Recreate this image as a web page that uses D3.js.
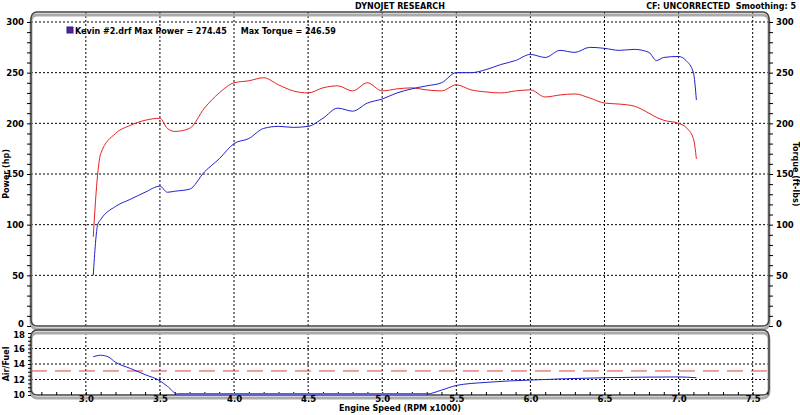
<!DOCTYPE html>
<html><head><meta charset="utf-8">
<script src="https://cdn.jsdelivr.net/npm/d3@7"></script>
<style>body{margin:0;background:#fff}text{font-family:Verdana,"DejaVu Sans",sans-serif;font-weight:bold}</style>
</head><body><div id="chart"></div>
<script>
var rpm =    [3.05,3.08,3.1,3.2,3.3,3.4,3.5,3.55,3.6,3.7,3.8,3.9,4.0,4.1,4.2,4.3,4.4,4.5,4.6,4.7,4.8,4.9,5.0,5.1,5.2,5.3,5.4,5.5,5.6,5.7,5.8,5.9,6.0,6.1,6.2,6.3,6.4,6.5,6.6,6.7,6.8,6.85,6.9,7.0,7.05,7.1,7.12];
var power =  [50,100,105,118,125,132,138,132,133,135,152,165,180,185,195,197,196,197,205,215,212,220,224,230,234,237,240,250,250,253,258,262,268,265,272,270,275,274,272,273,270,262,265,266,262,250,223];
var torque = [88,150,170,190,198,203,205,195,192,195,215,230,240,242,245,238,232,230,235,237,232,240,232,234,235,233,232,238,233,231,230,232,233,226,228,229,225,220,219,217,210,206,203,200,196,185,165];
var afrRpm = [3.05,3.1,3.15,3.2,3.3,3.4,3.5,3.55,3.62,5.3,5.4,5.5,5.7,6.0,6.5,7.0,7.12];
var afr =    [14.8,15.0,14.8,14.1,13.3,12.5,11.7,11.0,10,10,10.5,11.1,11.5,11.8,12.1,12.2,12.1];
var afrTarget = 13.1;
var xTicks = [3.0,3.5,4.0,4.5,5.0,5.5,6.0,6.5,7.0,7.5];
var yTicks = [0,50,100,150,200,250,300];
var afrTicks = [10,12,14,16,18];

var W = 800, H = 415;
var svg = d3.select("#chart").append("svg").attr("width", W).attr("height", H);
var x = d3.scaleLinear().domain([2.63, 7.61]).range([31, 769]);
var y = d3.scaleLinear().domain([0, 300]).range([326, 22]);
var ya = d3.scaleLinear().domain([10, 18]).range([395, 333]);
var fs = 8.5;

function panel(top, bottom) {
  svg.append("rect").attr("x", 31).attr("y", top + 3).attr("width", 738).attr("height", bottom - top)
    .attr("rx", 6).attr("fill", "none").attr("stroke", "#aaa").attr("stroke-width", 3);
  svg.append("rect").attr("x", 31).attr("y", top).attr("width", 738).attr("height", bottom - top)
    .attr("rx", 6).attr("fill", "none").attr("stroke", "#444").attr("stroke-width", 1.5);
}

// gridlines
var g = svg.append("g").attr("stroke", "#000").attr("stroke-dasharray", "2,2").attr("stroke-width", 1);
xTicks.forEach(function (t) {
  g.append("line").attr("x1", x(t)).attr("x2", x(t)).attr("y1", 12).attr("y2", 326);
  g.append("line").attr("x1", x(t)).attr("x2", x(t)).attr("y1", 333).attr("y2", 395);
});
yTicks.slice(1).forEach(function (t) {
  g.append("line").attr("x1", 31).attr("x2", 769).attr("y1", y(t)).attr("y2", y(t));
});
afrTicks.slice(1, 4).forEach(function (t) {
  g.append("line").attr("x1", 31).attr("x2", 769).attr("y1", ya(t)).attr("y2", ya(t));
});

panel(12, 326);
panel(330, 395);

function yAxis(gen) {
  return function (s) {
    s.call(gen);
    s.select(".domain").remove();
    s.selectAll("text").attr("font-size", fs);
  };
}
var lab = function (d) { return yTicks.indexOf(d) >= 0 ? d : ""; };
svg.append("g").attr("transform", "translate(31,0)")
  .call(yAxis(d3.axisLeft(y).tickValues(d3.range(0, 301, 10)).tickSize(4).tickFormat(lab)));
svg.append("g").attr("transform", "translate(769,0)")
  .call(yAxis(d3.axisRight(y).tickValues(d3.range(0, 301, 10)).tickSize(4).tickFormat(lab)));
svg.append("g").attr("transform", "translate(31,0)")
  .call(yAxis(d3.axisLeft(ya).tickValues(d3.range(10, 18.1, 0.5)).tickSize(3)
    .tickFormat(function (d) { return afrTicks.indexOf(d) >= 0 ? d : ""; })));
svg.append("g").attr("transform", "translate(0,395)")
  .call(d3.axisTop(x).tickValues(d3.range(2.7, 7.61, 0.1)).tickSize(3).tickFormat(""))
  .call(function (s) { s.select(".domain").remove(); });
svg.append("g").attr("transform", "translate(0,393)")
  .call(yAxis(d3.axisBottom(x).tickValues(xTicks).tickSize(0).tickFormat(d3.format(".1f"))));

// nudge overlapping "0"/"18" labels apart
svg.selectAll("g.tick text").filter(function () { return this.textContent === "0"; }).attr("dy", "0.1em");
svg.selectAll("g.tick text").filter(function () { return this.textContent === "18"; }).attr("dy", "0.55em");

// curves
var line = d3.line().curve(d3.curveMonotoneX).x(function (d) { return x(d[0]); }).y(function (d) { return y(d[1]); });
svg.append("path").datum(d3.zip(rpm, torque)).attr("d", line).attr("fill", "none").attr("stroke", "#e82020").attr("stroke-width", 1);
svg.append("path").datum(d3.zip(rpm, power)).attr("d", line).attr("fill", "none").attr("stroke", "#2020d0").attr("stroke-width", 1);

svg.append("line").attr("x1", 31).attr("x2", 769).attr("y1", ya(afrTarget)).attr("y2", ya(afrTarget))
  .attr("stroke", "#e04040").attr("stroke-dasharray", "16,8").attr("stroke-width", 1);
var aline = d3.line().curve(d3.curveMonotoneX).x(function (d) { return x(d[0]); }).y(function (d) { return ya(d[1]) - 1; });
svg.append("path").datum(d3.zip(afrRpm, afr)).attr("d", aline).attr("fill", "none").attr("stroke", "#2020d0").attr("stroke-width", 1);
svg.append("line").attr("x1", x(3.62)).attr("x2", x(5.3)).attr("y1", 394).attr("y2", 394).attr("stroke", "#6060d0").attr("stroke-width", 2);

// text
svg.append("text").attr("x", 400).attr("y", 9).attr("text-anchor", "middle").attr("font-size", 8).text("DYNOJET RESEARCH");
svg.append("text").attr("x", 796).attr("y", 9).attr("text-anchor", "end").attr("font-size", 8).attr("xml:space", "preserve").text("CF: UNCORRECTED  Smoothing: 5");
svg.append("rect").attr("x", 67).attr("y", 27).attr("width", 6).attr("height", 6).attr("fill", "#602080").attr("stroke", "#2020a0");
svg.append("text").attr("x", 75).attr("y", 34).attr("font-size", 8).attr("xml:space", "preserve")
  .text("Kevin #2.drf Max Power = 274.45     Max Torque = 246.59");
svg.append("text").attr("transform", "translate(9,174) rotate(-90)").attr("text-anchor", "middle").attr("font-size", 8).text("Power (hp)");
svg.append("text").attr("transform", "translate(793,174) rotate(90)").attr("text-anchor", "middle").attr("font-size", 8).text("Torque (ft-lbs)");
svg.append("text").attr("transform", "translate(9,364) rotate(-90)").attr("text-anchor", "middle").attr("font-size", 8).text("Air/Fuel");
svg.append("text").attr("x", 400).attr("y", 411).attr("text-anchor", "middle").attr("font-size", 8).text("Engine Speed (RPM x1000)");
</script></body></html>
